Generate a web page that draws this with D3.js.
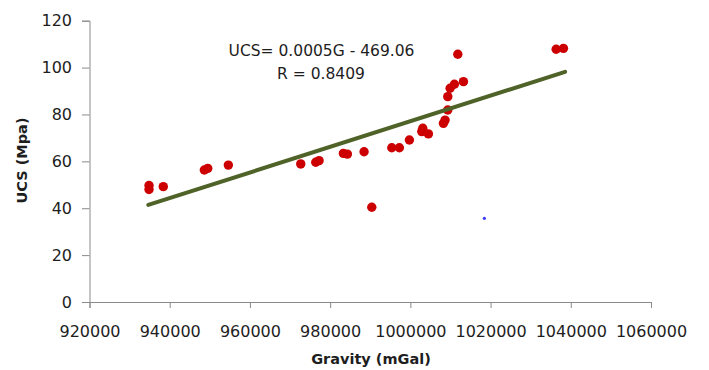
<!DOCTYPE html>
<html>
<head>
<meta charset="utf-8">
<script src="https://cdn.jsdelivr.net/npm/d3@7"></script>
<style>
  html, body { margin: 0; padding: 0; background: #fff; }
  svg { display: block; font-family: "DejaVu Sans", Verdana, sans-serif; }
</style>
</head>
<body>
<svg id="chart" width="709" height="370"></svg>
<script>
// Data
const gravity = [934840, 934840, 938400, 948630, 949480, 954620, 972670, 976410, 977240,
  983300, 984300, 988460, 990380, 995370, 997260, 999760, 1002850, 1003100, 1004500,
  1008240, 1008660, 1009330, 1009330, 1009910, 1010980, 1013230, 1011830, 1036350, 1038170];
const ucs = [49.7, 48.0, 49.2, 56.3, 57.0, 58.4, 58.9, 59.6, 60.3,
  63.4, 63.1, 64.1, 40.4, 65.8, 65.8, 69.1, 72.7, 74.1, 71.7,
  76.2, 77.6, 81.9, 87.6, 91.2, 92.9, 94.0, 105.7, 107.8, 108.2];
const strayGravity = [1018460];
const strayUcs = [35.7];
const trendGravity = [934660, 1038580];
const trendUcs = [41.4, 98.2];
const xTicks = [920000, 940000, 960000, 980000, 1000000, 1020000, 1040000, 1060000];
const yTicks = [0, 20, 40, 60, 80, 100, 120];
const equationLines = ["UCS= 0.0005G - 469.06", "R = 0.8409"];
const xTitle = "Gravity (mGal)";
const yTitle = "UCS (Mpa)";

const svg = d3.select("#chart");
const x = d3.scaleLinear().domain([920000, 1060000]).range([89.5, 651]);
const y = d3.scaleLinear().domain([0, 120]).range([302, 20.7]);

const axisColor = "#8a8a8a";
const textColor = "#1e1e1e";

// Y axis
const gy = svg.append("g").attr("transform", `translate(${x(920000)},0)`)
  .call(d3.axisLeft(y).tickValues(yTicks).tickSize(7.5).tickPadding(10).tickFormat(d3.format("d")));
gy.select(".domain").attr("stroke", axisColor);
gy.selectAll(".tick line").attr("stroke", axisColor);
gy.selectAll(".tick text").attr("fill", textColor).style("font-size", "16px")
  .style("font-family", "DejaVu Sans, Verdana, sans-serif");

// X axis
const gx = svg.append("g").attr("transform", `translate(0,${y(0)})`)
  .call(d3.axisBottom(x).tickValues(xTicks).tickSize(6).tickPadding(18).tickFormat(d3.format("d")));
gx.select(".domain").attr("stroke", axisColor);
gx.selectAll(".tick line").attr("stroke", axisColor);
gx.selectAll(".tick text").attr("fill", textColor).style("font-size", "16px")
  .style("font-family", "DejaVu Sans, Verdana, sans-serif");

// Points
const pts = gravity.map((g, i) => ({g, u: ucs[i]}));
svg.append("g").selectAll("circle").data(pts).join("circle")
  .attr("cx", d => x(d.g)).attr("cy", d => y(d.u)).attr("r", 4.7)
  .attr("fill", "#cc0000");

// Stray blue marker
svg.append("g").selectAll("circle").data(strayGravity.map((g, i) => ({g, u: strayUcs[i]})))
  .join("circle").attr("cx", d => x(d.g)).attr("cy", d => y(d.u)).attr("r", 1.6)
  .attr("fill", "#3a3aff");

// Trend line
const trend = trendGravity.map((g, i) => ({g, u: trendUcs[i]}));
svg.append("path").datum(trend)
  .attr("d", d3.line().x(d => x(d.g)).y(d => y(d.u)))
  .attr("stroke", "#4f6228").attr("stroke-width", 4).attr("stroke-linecap", "round")
  .attr("fill", "none");

// Equation label
const eq = svg.append("g").attr("fill", textColor).style("font-size", "15.5px").attr("text-anchor", "middle");
eq.append("text").attr("x", 321.5).attr("y", 56).text(equationLines[0]);
eq.append("text").attr("x", 321).attr("y", 79).text(equationLines[1]);

// Axis titles
svg.append("text").attr("x", 371).attr("y", 364).attr("text-anchor", "middle")
  .attr("fill", textColor).style("font-size", "14.5px").style("font-weight", "bold").text(xTitle);
svg.append("text").attr("transform", "translate(27,160.5) rotate(-90)").attr("text-anchor", "middle")
  .attr("fill", textColor).style("font-size", "14.5px").style("font-weight", "bold").text(yTitle);
</script>
</body>
</html>
